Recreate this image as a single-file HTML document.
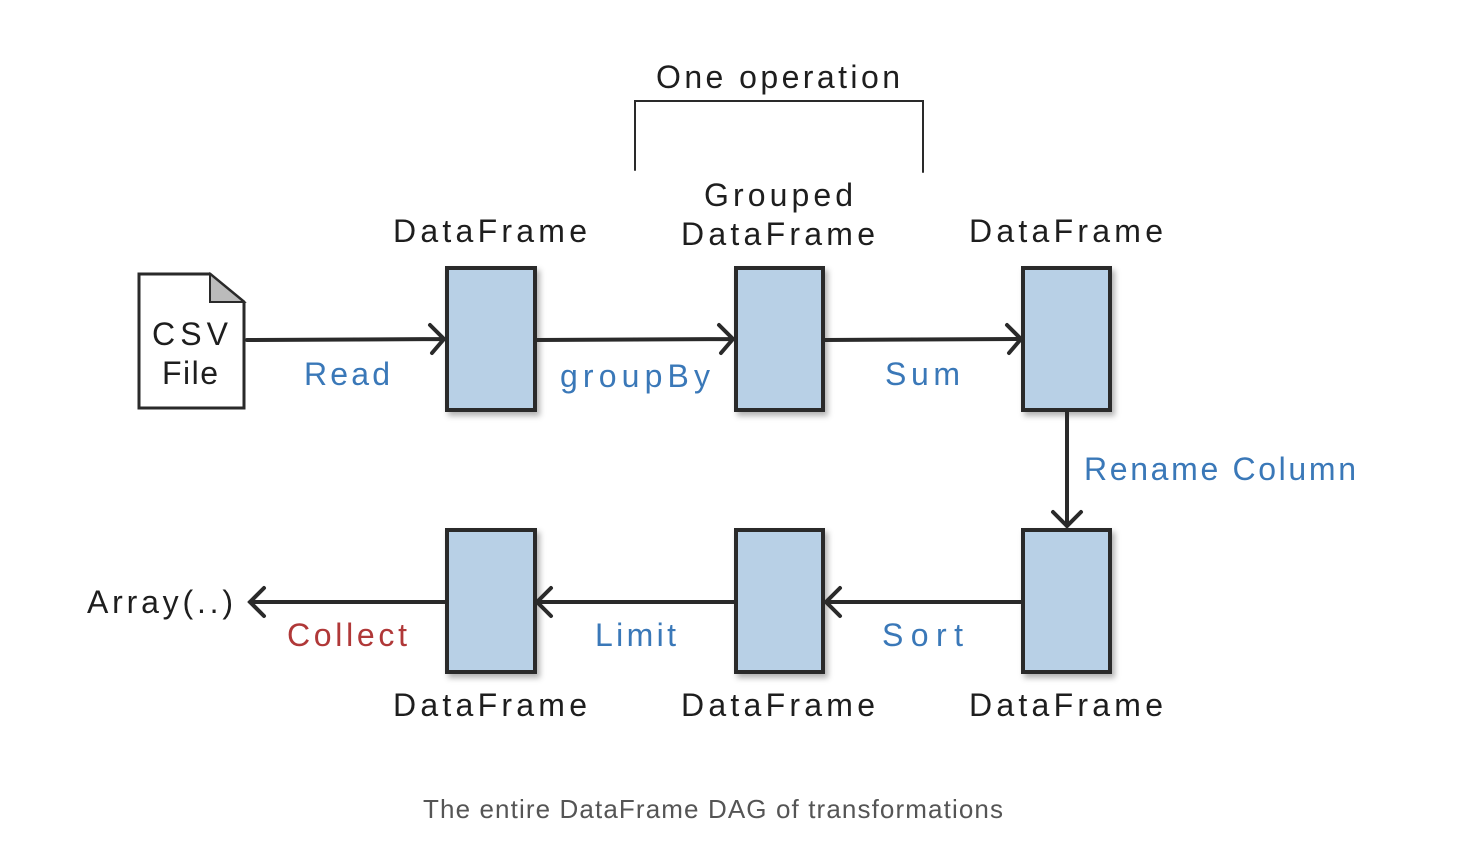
<!DOCTYPE html>
<html><head><meta charset="utf-8"><style>
html,body{margin:0;padding:0;background:#fff;width:1476px;height:850px;overflow:hidden}
svg text{font-family:"Liberation Sans",sans-serif}
</style></head><body>
<svg width="1476" height="850" viewBox="0 0 1476 850" xmlns="http://www.w3.org/2000/svg">
<defs><filter id="sh" x="-20%" y="-20%" width="150%" height="150%"><feDropShadow dx="3" dy="4" stdDeviation="3" flood-color="#000" flood-opacity="0.3"/></filter></defs>
<g stroke="#2a2a2a" stroke-width="4" fill="#b8d0e6" filter="url(#sh)">
<rect x="447" y="268" width="88" height="142"/>
<rect x="736" y="268" width="87" height="142"/>
<rect x="1023" y="268" width="87" height="142"/>
<rect x="447" y="530" width="88" height="142"/>
<rect x="736" y="530" width="87" height="142"/>
<rect x="1023" y="530" width="87" height="142"/>
</g>
<path d="M139 274 L210 274 L244 302 L244 408 L139 408 Z" fill="#fff" stroke="#2a2a2a" stroke-width="3"/>
<path d="M210 274 L210 302 L244 302 Z" fill="#bbb" stroke="#2a2a2a" stroke-width="2"/>
<g stroke="#2a2a2a" stroke-width="4" fill="none" stroke-linecap="round">
<path d="M247 340 L444 339 M430 325 L444 339 L432 353"/>
<path d="M537 340 L733 339 M719 325 L733 339 L721 353"/>
<path d="M825 340 L1021 339 M1007 325 L1021 339 L1009 353"/>
<path d="M1067 412 L1067 526 M1053 512 L1067 526 L1081 512"/>
<path d="M1021 602 L826 602 M840 588 L826 602 L840 616"/>
<path d="M734 602 L537 602 M551 588 L537 602 L551 616"/>
<path d="M445 602 L250 602 M264 588 L250 602 L264 616"/>
<path d="M635 170 L635 101 L923 101 L923 172" stroke-width="2"/>
</g>
<g font-size="32" fill="#1e1e1e" lengthAdjust="spacing">
<text x="656" y="88" textLength="244">One operation</text>
<text x="393" y="242" textLength="194">DataFrame</text>
<text x="704" y="206" textLength="149">Grouped</text>
<text x="681" y="245" textLength="194">DataFrame</text>
<text x="969" y="242" textLength="194">DataFrame</text>
<text x="393" y="716" textLength="194">DataFrame</text>
<text x="681" y="716" textLength="194">DataFrame</text>
<text x="969" y="716" textLength="194">DataFrame</text>
<text x="152" y="345" textLength="76">CSV</text>
<text x="162" y="384" textLength="56">File</text>
<text x="87" y="613" textLength="146">Array(..)</text>
</g>
<g font-size="32" fill="#3a78b8">
<text x="304" y="385" textLength="86">Read</text>
<text x="560" y="387" textLength="150">groupBy</text>
<text x="885" y="385" textLength="75">Sum</text>
<text x="1084" y="480" textLength="272">Rename Column</text>
<text x="882" y="646" textLength="81">Sort</text>
<text x="595" y="646" textLength="81">Limit</text>
</g>
<text x="287" y="646" textLength="120" font-size="32" fill="#b03838">Collect</text>
<text x="423" y="818" textLength="580" font-size="26" fill="#555">The entire DataFrame DAG of transformations</text>
</svg>
</body></html>
